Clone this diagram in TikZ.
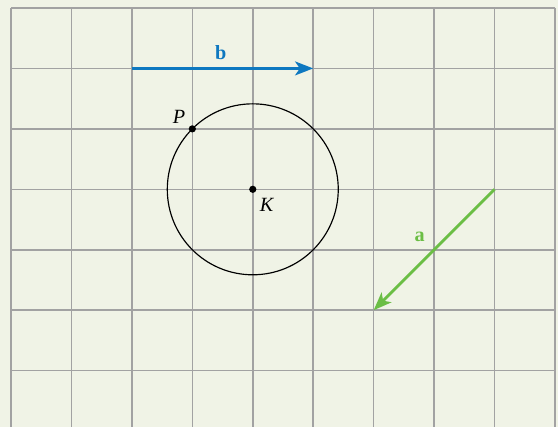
\documentclass[tikz,border=0pt]{standalone}
\usepackage{fontspec}
\setmainfont{Liberation Serif}
\usetikzlibrary{arrows.meta}
\definecolor{bgc}{HTML}{F0F3E6}
\definecolor{gridc}{HTML}{A2A2A2}
\definecolor{vblue}{HTML}{0E78C0}
\definecolor{vgreen}{HTML}{6BBE45}
\tikzset{
  gridline/.style={draw=gridc, line width=0.75pt},
  vec/.style={line width=1.35pt, -{Stealth[length=8.5pt,width=6.5pt,inset=2.2pt]}},
  vlabel/.style={font=\fontsize{9.5}{11}\selectfont\bfseries, inner sep=0pt},
  plabel/.style={font=\fontsize{9.5}{11}\selectfont\itshape, inner sep=0pt},
  dot/.style={circle, fill=black, inner sep=0pt, minimum size=3.4pt}
}
\begin{document}
\begin{tikzpicture}
\useasboundingbox[fill=bgc] (-0.182,-6.932) rectangle (9.050,0.132);
% grid
\foreach \i in {0,...,9} \draw[gridline] (\i,0) -- (\i,-6.932);
\foreach \j in {0,...,6} \draw[gridline] (0,-\j) -- (9,-\j);
% circle
\node[dot] (K) at (4,-3) {};
\node[dot] (P) at (3,-2) {};
\draw[black, line width=0.55pt] (4,-3) circle ({sqrt(2)});
\node[plabel] (Klab) at (4.23,-3.25) {K};
\node[plabel] (Plab) at (2.78,-1.8) {P};
% vector b
\coordinate (b1) at (2,-1);
\coordinate (b2) at (5,-1);
\draw[vec, vblue] (b1) -- (b2);
\node[vlabel, text=vblue] (blab) at (3.47,-0.74) {b};
% vector a
\coordinate (a1) at (8,-3);
\coordinate (a2) at (6,-5);
\draw[vec, vgreen] (a1) -- (a2);
\node[vlabel, text=vgreen] (alab) at (6.76,-3.78) {a};
\end{tikzpicture}
\end{document}
